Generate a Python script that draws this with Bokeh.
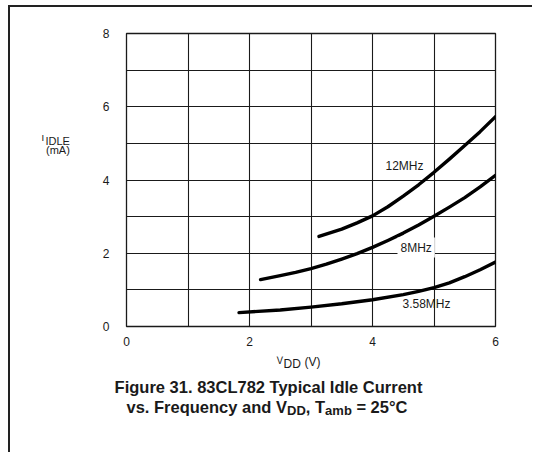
from bokeh.plotting import figure
from bokeh.models import Label, FixedTicker, Range1d
from bokeh.layouts import column, row
from bokeh.embed import file_html
from bokeh.resources import INLINE

# ---- data ----
series_names = ["12MHz", "8MHz", "3.58MHz"]
vdd_12 = [3.13, 3.5, 3.75, 4.0, 4.25, 4.5, 4.75, 5.0, 5.25, 5.5, 5.75, 6.0]
idle_12 = [2.46, 2.66, 2.83, 3.02, 3.27, 3.56, 3.87, 4.21, 4.57, 4.94, 5.32, 5.73]
vdd_8 = [2.18, 2.5, 2.75, 3.0, 3.25, 3.5, 3.75, 4.0, 4.25, 4.5, 4.75, 5.0, 5.25, 5.5, 5.75, 6.0]
idle_8 = [1.28, 1.39, 1.48, 1.58, 1.70, 1.84, 1.99, 2.16, 2.35, 2.55, 2.77, 3.01, 3.26, 3.52, 3.81, 4.13]
vdd_358 = [1.83, 2.5, 3.0, 3.5, 4.0, 4.5, 4.75, 5.0, 5.25, 5.5, 5.75, 6.0]
idle_358 = [0.38, 0.45, 0.53, 0.62, 0.73, 0.87, 0.96, 1.06, 1.19, 1.36, 1.55, 1.76]
x_ticks = [0, 2, 4, 6]
y_ticks = [0, 2, 4, 6, 8]
x_grid = [0, 1, 2, 3, 4, 5, 6]
y_grid = [0, 1, 2, 3, 4, 5, 6, 7, 8]

FONT = "Liberation Sans"
INK = "#1a1a1a"

# layout geometry (content origin is the top-left inside the border)
OX, OY = 10, 7          # page position of content origin
WY = 76                 # width of the left label strip
HP = 349                # height of the plot row
WP = 446                # width of the main figure
HC = 96                 # height of the caption strip
TY = -4.5               # text baseline correction

p = figure(width=WP, height=HP, output_backend="svg", toolbar_location=None,
           x_range=Range1d(0, 6), y_range=Range1d(0, 8),
           min_border_left=40, min_border_right=37, min_border_top=26, min_border_bottom=30)
p.background_fill_color = "white"
p.border_fill_color = "white"
p.outline_line_color = INK
p.outline_line_width = 1.3

for ax, ticks in ((p.xaxis, x_ticks), (p.yaxis, y_ticks)):
    ax.ticker = FixedTicker(ticks=ticks)
    ax.axis_line_color = None
    ax.major_tick_line_color = None
    ax.minor_tick_line_color = None
    ax.major_tick_in = 0
    ax.major_tick_out = 0
    ax.major_label_text_font = FONT
    ax.major_label_text_font_size = "12px"
    ax.major_label_text_color = INK
p.xaxis.major_label_standoff = 10
p.yaxis.major_label_standoff = 17

p.xgrid.ticker = FixedTicker(ticks=x_grid)
p.ygrid.ticker = FixedTicker(ticks=y_grid)
for g in (p.xgrid, p.ygrid):
    g.grid_line_color = INK
    g.grid_line_width = 1.1
    g.grid_line_alpha = 1.0

for xs, ys in ((vdd_12, idle_12), (vdd_8, idle_8), (vdd_358, idle_358)):
    p.line(xs, ys, line_color="black", line_width=3.4, line_cap="round", line_join="round")


def aux(w, h):
    f = figure(width=w, height=h, output_backend="svg", toolbar_location=None,
               x_range=Range1d(0, w), y_range=Range1d(h, 0), min_border=0,
               x_axis_location=None, y_axis_location=None)
    f.outline_line_color = None
    f.xgrid.visible = False
    f.ygrid.visible = False
    f.background_fill_color = "white"
    f.border_fill_color = "white"
    return f


yfig = aux(WY, HP)
cfig = aux(WY + WP, HC)


def lab(fig, px, py, text, size, bold=False, align="left", bg=False, fx=0, fy=0):
    """place text at page pixel (px, py) inside fig whose content origin is at (fx, fy)"""
    py = py + TY
    if fig is p:
        x = (px - 126) / 61.5
        y = (326 - py) / 36.625
    else:
        x = px - fx
        y = py - fy
    kw = dict(x=x, y=y, text=text, text_font=FONT,
              text_font_size=size, text_color=INK, text_baseline="alphabetic",
              text_align=align, text_font_style="bold" if bold else "normal")
    if bg:
        kw.update(background_fill_color="white", padding=3)
    fig.add_layout(Label(**kw))


# curve labels
lab(p, 385, 170, series_names[0], "12px")
lab(p, 397, 251.5, series_names[1], "12px", bg=True)
lab(p, 402, 308, series_names[2], "12px")

# y axis label  I_IDLE (mA)
lab(yfig, 41, 135.5, "I", "9.5px", fx=OX, fy=OY)
lab(yfig, 45, 139.5, "IDLE", "11px", fx=OX, fy=OY)
lab(yfig, 45.5, 150, "(mA)", "11px", fx=OX, fy=OY)

# x axis label  V_DD (V) and caption (caption strip starts at page y OY+HP)
CX, CY = OX, OY + HP
lab(cfig, 276, 364, "V", "10px", fx=CX, fy=CY)
lab(cfig, 283, 368, "DD", "12px", fx=CX, fy=CY)
lab(cfig, 304, 366, "(V)", "12px", fx=CX, fy=CY)

lab(cfig, 268, 391, "Figure 31. 83CL782 Typical Idle Current", "16.5px", bold=True, align="center", fx=CX, fy=CY)
lab(cfig, 126, 411, "vs. Frequency and V", "16.5px", bold=True, fx=CX, fy=CY)
lab(cfig, 286.5, 414, "DD", "13px", bold=True, fx=CX, fy=CY)
lab(cfig, 305.3, 411, ", T", "16.5px", bold=True, fx=CX, fy=CY)
lab(cfig, 324.6, 414, "amb", "13px", bold=True, fx=CX, fy=CY)
lab(cfig, 355.9, 411, "= 25°C", "16.5px", bold=True, fx=CX, fy=CY)

layout = column(row(yfig, p), cfig,
                styles={"border-left": "2px solid #222", "border-top": "2px solid #222",
                        "margin-left": "8px", "margin-top": "5px"})

open("out.html", "w").write(file_html(layout, INLINE))
